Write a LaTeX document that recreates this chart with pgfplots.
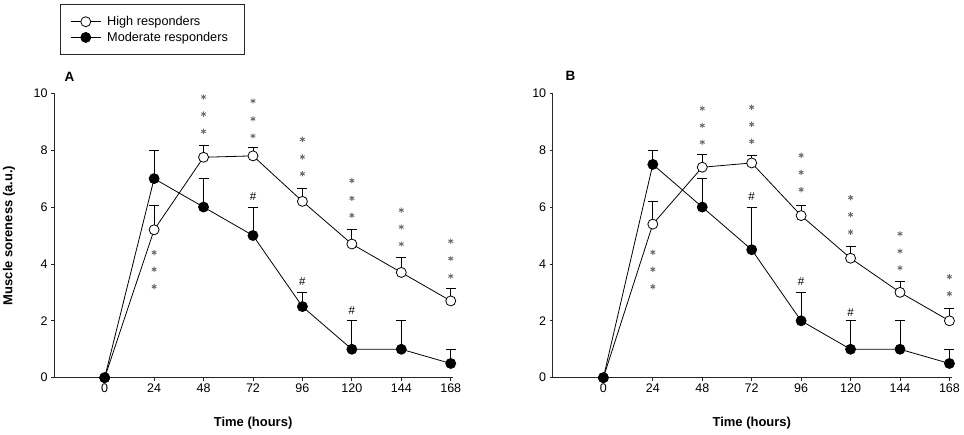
\documentclass[border=0pt]{standalone}
\usepackage{fontspec}
\setmainfont{Liberation Sans}
\usepackage{pgfplots}
\usepackage{pgfplotstable}
\pgfplotsset{compat=1.18}

% Panel A
\pgfplotstableread{
x y e
0 0 0
24 5.2 0.85
48 7.75 0.42
72 7.8 0.3
96 6.2 0.47
120 4.7 0.52
144 3.7 0.52
168 2.7 0.45
}\hiA
\pgfplotstableread{
x y e
0 0 0
24 7 1
48 6 1
72 5 1
96 2.5 0.5
120 1 1
144 1 1
168 0.5 0.5
}\moA
\pgfplotstableread{
x y
24 4.40
24 3.81
24 3.20
48 9.87
48 9.27
48 8.66
72 9.73
72 9.10
72 8.50
96 8.38
96 7.76
96 7.17
120 6.93
120 6.31
120 5.71
144 5.89
144 5.30
144 4.70
168 4.80
168 4.19
168 3.57
}\astA
\pgfplotstableread{
x y
72 6.36
96 3.39
120 2.35
}\hashA

% Panel B
\pgfplotstableread{
x y e
0 0 0
24 5.4 0.8
48 7.4 0.45
72 7.55 0.25
96 5.7 0.36
120 4.2 0.4
144 3.0 0.38
168 2.0 0.44
}\hiB
\pgfplotstableread{
x y e
0 0 0
24 7.5 0.5
48 6 1
72 4.5 1.5
96 2 1
120 1 1
144 1 1
168 0.5 0.5
}\moB
\pgfplotstableread{
x y
24 4.41
24 3.81
24 3.20
48 9.47
48 8.87
48 8.28
72 9.51
72 8.91
72 8.31
96 7.82
96 7.22
96 6.61
120 6.33
120 5.73
120 5.12
144 5.06
144 4.45
144 3.86
168 3.55
168 2.95
}\astB
\pgfplotstableread{
x y
72 6.37
96 3.39
120 2.30
}\hashB

\pgfplotsset{
 panel/.style={
  scale only axis, width=399pt, height=284.4pt,
  xmin=-24.6, xmax=169.1, ymin=0, ymax=10,
  axis x line=bottom, axis y line=left,
  axis line style={-, line width=0.9pt, black!85},
  xtick={0,24,48,72,96,120,144,168}, ytick={0,2,4,6,8,10},
  tick align=outside, major tick length=3pt,
  tick style={line width=0.8pt, black!85},
  /pgf/number format/assume math mode=true,
  ticklabel style={font=\fontsize{12.5}{15}\selectfont},
  label style={font=\fontsize{13}{15}\selectfont\bfseries},
  xlabel={Time (hours)},
  xlabel style={at={(axis description cs:0.499,-0.16)}, anchor=center},
  clip=false,
 },
 hi/.style={black, line width=0.8pt, mark=*, mark size=5pt,
   mark options={fill=white, line width=0.8pt},
   error bars/.cd, y dir=plus, y explicit,
   error bar style={line width=0.8pt},
   error mark options={rotate=90, line width=0.8pt, mark size=5pt}},
 mo/.style={black, line width=0.8pt, mark=*, mark size=5pt,
   mark options={fill=black, line width=0.8pt},
   error bars/.cd, y dir=plus, y explicit,
   error bar style={line width=0.8pt},
   error mark options={rotate=90, line width=0.8pt, mark size=5pt}},
 ast/.style={only marks, mark=asterisk, mark size=2.7pt, color=black!58,
   mark options={line width=0.9pt}, forget plot},
 hash/.style={only marks, mark=text, text mark={\fontsize{11.5}{13}\selectfont\#},
   black, forget plot},
 /pgfplots/legend image code/.code={%
   \draw[mark repeat=2,mark phase=2,#1] plot coordinates {(0pt,0pt) (15pt,0pt) (30pt,0pt)};},
}

\begin{document}
\begin{tikzpicture}
\useasboundingbox (0pt,0pt) rectangle (964pt,435pt);
\begin{axis}[panel, at={(54pt,57.3pt)}, anchor=south west,
  ylabel={Muscle soreness (a.u.)},
  ylabel style={at={(axis description cs:-0.1128,0.5)}, anchor=center},
  legend style={at={(0.015,1.314)}, anchor=north west,
    draw=black!85, line width=0.8pt, inner xsep=10pt, inner ysep=10pt,
    font=\fontsize{12.7}{15}\selectfont, row sep=1pt,
    nodes={inner xsep=6pt},
    legend cell align=left},
  legend cell align=left]
\addplot[ast] table {\astA};
\addplot[hash] table {\hashA};
\addplot[hi] table[x=x, y=y, y error=e] {\hiA};
\addlegendentry{High responders}
\addplot[mo] table[x=x, y=y, y error=e] {\moA};
\addlegendentry{Moderate responders}
\node[font=\fontsize{13.5}{15}\selectfont\bfseries] at (rel axis cs:0.039,1.057) {A};
\end{axis}
\begin{axis}[panel, at={(552.7pt,57.3pt)}, anchor=south west]
\addplot[ast] table {\astB};
\addplot[hash] table {\hashB};
\addplot[hi] table[x=x, y=y, y error=e] {\hiB};
\addplot[mo] table[x=x, y=y, y error=e] {\moB};
\node[font=\fontsize{13.5}{15}\selectfont\bfseries] at (rel axis cs:0.0446,1.062) {B};
\end{axis}
\end{tikzpicture}
\end{document}
